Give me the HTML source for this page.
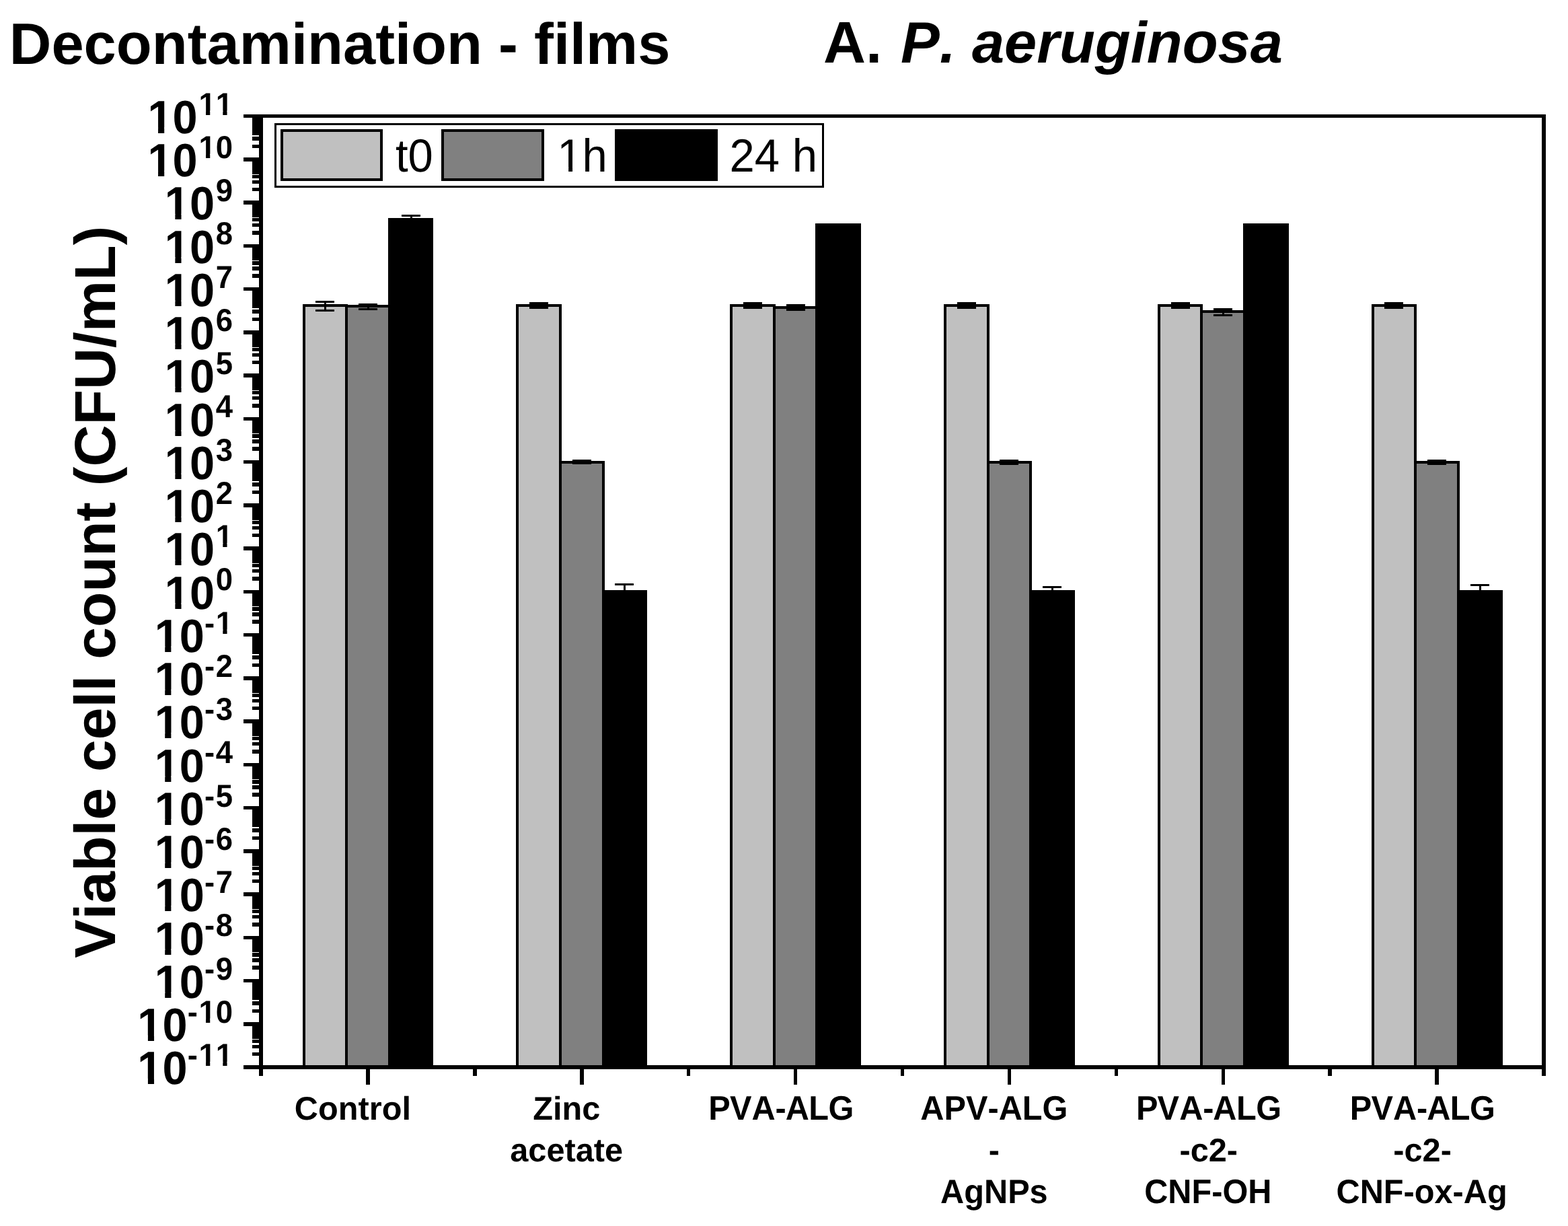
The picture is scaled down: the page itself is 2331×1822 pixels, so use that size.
<!DOCTYPE html>
<html lang="en"><head><meta charset="utf-8"><title>Decontamination - films: A. P. aeruginosa</title>
<style>
html,body{margin:0;padding:0;background:#fff;}
body{width:2331px;height:1822px;}
svg{display:block;}
text{font-kerning:none;text-rendering:geometricPrecision;}
</style></head><body>
<svg width="2331" height="1822" viewBox="0 0 2331 1822" role="img" aria-label="Bar chart: viable cell count (CFU/mL) of P. aeruginosa on films at t0, 1h and 24 h">
<rect x="0" y="0" width="2331" height="1822" fill="#fff"/>
<g id="bars" stroke="#000" stroke-width="4.00" stroke-linejoin="miter" shape-rendering="crispEdges">
<rect x="452.12" y="454.00" width="62.97" height="1132.00" fill="#c0c0c0"/>
<rect x="515.09" y="455.00" width="63.67" height="1131.00" fill="#808080"/>
<rect x="578.76" y="326.40" width="63.67" height="1259.60" fill="#000000"/>
<rect x="769.25" y="454.00" width="63.67" height="1132.00" fill="#c0c0c0"/>
<rect x="832.92" y="687.00" width="63.67" height="899.00" fill="#808080"/>
<rect x="896.59" y="879.30" width="63.67" height="706.70" fill="#000000"/>
<rect x="1087.08" y="454.00" width="63.67" height="1132.00" fill="#c0c0c0"/>
<rect x="1150.75" y="457.00" width="63.67" height="1129.00" fill="#808080"/>
<rect x="1214.42" y="334.30" width="63.67" height="1251.70" fill="#000000"/>
<rect x="1404.92" y="454.00" width="63.67" height="1132.00" fill="#c0c0c0"/>
<rect x="1468.59" y="687.00" width="63.67" height="899.00" fill="#808080"/>
<rect x="1532.26" y="879.30" width="63.67" height="706.70" fill="#000000"/>
<rect x="1722.75" y="454.00" width="63.67" height="1132.00" fill="#c0c0c0"/>
<rect x="1786.42" y="463.00" width="63.67" height="1123.00" fill="#808080"/>
<rect x="1850.09" y="334.30" width="63.67" height="1251.70" fill="#000000"/>
<rect x="2040.58" y="454.00" width="63.67" height="1132.00" fill="#c0c0c0"/>
<rect x="2104.25" y="687.00" width="63.67" height="899.00" fill="#808080"/>
<rect x="2167.92" y="879.30" width="63.67" height="706.70" fill="#000000"/>
</g>
<g id="errs" stroke="#000" stroke-width="3" fill="none" stroke-linecap="round" shape-rendering="crispEdges">
<path d="M470.5 448.5H495.5M483.5 448.5V461.5M470.5 461.5H495.5"/>
<path d="M534.5 452.5H559.5M547.5 452.5V459.5M534.5 459.5H559.5"/>
<path d="M598.5 320.5H623.5M611.5 320.5V326.4"/>
<path d="M788.5 450.5H813.5M801.5 450.5V457.5M788.5 457.5H813.5"/>
<path d="M852.5 684.5H877.5M865.5 684.5V688.5M852.5 688.5H877.5"/>
<path d="M915.5 868.5H940.5M928.5 868.5V879.3"/>
<path d="M1106.5 450.5H1131.5M1119.5 450.5V457.5M1106.5 457.5H1131.5"/>
<path d="M1170.5 453.5H1195.5M1183.5 453.5V460.5M1170.5 460.5H1195.5"/>
<path d="M1424.5 450.5H1449.5M1437.5 450.5V457.5M1424.5 457.5H1449.5"/>
<path d="M1487.5 684.5H1512.5M1500.5 684.5V689.5M1487.5 689.5H1512.5"/>
<path d="M1551.5 872.5H1576.5M1564.5 872.5V879.3"/>
<path d="M1742.5 450.5H1767.5M1755.5 450.5V457.5M1742.5 457.5H1767.5"/>
<path d="M1805.5 459.5H1830.5M1818.5 459.5V468.5M1805.5 468.5H1830.5"/>
<path d="M2059.5 450.5H2084.5M2072.5 450.5V457.5M2059.5 457.5H2084.5"/>
<path d="M2123.5 684.5H2148.5M2136.5 684.5V689.5M2123.5 689.5H2148.5"/>
<path d="M2187.5 869.5H2212.5M2200.5 869.5V879.3"/>
</g>
<g id="axes" fill="#000" shape-rendering="crispEdges">
<rect x="385.25" y="169.75" width="5.5" height="1419.0"/>
<rect x="2292.25" y="169.75" width="5.5" height="1419.0"/>
<rect x="385.25" y="169.75" width="1912.5" height="5.5"/>
<rect x="385.25" y="1583.25" width="1912.5" height="5.5"/>
<rect x="362" y="169.75" width="26" height="5.5"/>
<rect x="375" y="214.66" width="13" height="5.5"/>
<rect x="375" y="203.34" width="13" height="5.5"/>
<rect x="375" y="195.32" width="13" height="5.5"/>
<rect x="375" y="189.09" width="13" height="5.5"/>
<rect x="375" y="184.00" width="13" height="5.5"/>
<rect x="375" y="179.70" width="13" height="5.5"/>
<rect x="375" y="175.98" width="13" height="5.5"/>
<rect x="375" y="172.69" width="13" height="5.5"/>
<rect x="362" y="234.00" width="26" height="5.5"/>
<rect x="375" y="278.91" width="13" height="5.5"/>
<rect x="375" y="267.59" width="13" height="5.5"/>
<rect x="375" y="259.57" width="13" height="5.5"/>
<rect x="375" y="253.34" width="13" height="5.5"/>
<rect x="375" y="248.25" width="13" height="5.5"/>
<rect x="375" y="243.95" width="13" height="5.5"/>
<rect x="375" y="240.23" width="13" height="5.5"/>
<rect x="375" y="236.94" width="13" height="5.5"/>
<rect x="362" y="298.25" width="26" height="5.5"/>
<rect x="375" y="343.16" width="13" height="5.5"/>
<rect x="375" y="331.84" width="13" height="5.5"/>
<rect x="375" y="323.82" width="13" height="5.5"/>
<rect x="375" y="317.59" width="13" height="5.5"/>
<rect x="375" y="312.50" width="13" height="5.5"/>
<rect x="375" y="308.20" width="13" height="5.5"/>
<rect x="375" y="304.48" width="13" height="5.5"/>
<rect x="375" y="301.19" width="13" height="5.5"/>
<rect x="362" y="362.50" width="26" height="5.5"/>
<rect x="375" y="407.41" width="13" height="5.5"/>
<rect x="375" y="396.09" width="13" height="5.5"/>
<rect x="375" y="388.07" width="13" height="5.5"/>
<rect x="375" y="381.84" width="13" height="5.5"/>
<rect x="375" y="376.75" width="13" height="5.5"/>
<rect x="375" y="372.45" width="13" height="5.5"/>
<rect x="375" y="368.73" width="13" height="5.5"/>
<rect x="375" y="365.44" width="13" height="5.5"/>
<rect x="362" y="426.75" width="26" height="5.5"/>
<rect x="375" y="471.66" width="13" height="5.5"/>
<rect x="375" y="460.34" width="13" height="5.5"/>
<rect x="375" y="452.32" width="13" height="5.5"/>
<rect x="375" y="446.09" width="13" height="5.5"/>
<rect x="375" y="441.00" width="13" height="5.5"/>
<rect x="375" y="436.70" width="13" height="5.5"/>
<rect x="375" y="432.98" width="13" height="5.5"/>
<rect x="375" y="429.69" width="13" height="5.5"/>
<rect x="362" y="491.00" width="26" height="5.5"/>
<rect x="375" y="535.91" width="13" height="5.5"/>
<rect x="375" y="524.59" width="13" height="5.5"/>
<rect x="375" y="516.57" width="13" height="5.5"/>
<rect x="375" y="510.34" width="13" height="5.5"/>
<rect x="375" y="505.25" width="13" height="5.5"/>
<rect x="375" y="500.95" width="13" height="5.5"/>
<rect x="375" y="497.23" width="13" height="5.5"/>
<rect x="375" y="493.94" width="13" height="5.5"/>
<rect x="362" y="555.25" width="26" height="5.5"/>
<rect x="375" y="600.16" width="13" height="5.5"/>
<rect x="375" y="588.84" width="13" height="5.5"/>
<rect x="375" y="580.82" width="13" height="5.5"/>
<rect x="375" y="574.59" width="13" height="5.5"/>
<rect x="375" y="569.50" width="13" height="5.5"/>
<rect x="375" y="565.20" width="13" height="5.5"/>
<rect x="375" y="561.48" width="13" height="5.5"/>
<rect x="375" y="558.19" width="13" height="5.5"/>
<rect x="362" y="619.50" width="26" height="5.5"/>
<rect x="375" y="664.41" width="13" height="5.5"/>
<rect x="375" y="653.09" width="13" height="5.5"/>
<rect x="375" y="645.07" width="13" height="5.5"/>
<rect x="375" y="638.84" width="13" height="5.5"/>
<rect x="375" y="633.75" width="13" height="5.5"/>
<rect x="375" y="629.45" width="13" height="5.5"/>
<rect x="375" y="625.73" width="13" height="5.5"/>
<rect x="375" y="622.44" width="13" height="5.5"/>
<rect x="362" y="683.75" width="26" height="5.5"/>
<rect x="375" y="728.66" width="13" height="5.5"/>
<rect x="375" y="717.34" width="13" height="5.5"/>
<rect x="375" y="709.32" width="13" height="5.5"/>
<rect x="375" y="703.09" width="13" height="5.5"/>
<rect x="375" y="698.00" width="13" height="5.5"/>
<rect x="375" y="693.70" width="13" height="5.5"/>
<rect x="375" y="689.98" width="13" height="5.5"/>
<rect x="375" y="686.69" width="13" height="5.5"/>
<rect x="362" y="748.00" width="26" height="5.5"/>
<rect x="375" y="792.91" width="13" height="5.5"/>
<rect x="375" y="781.59" width="13" height="5.5"/>
<rect x="375" y="773.57" width="13" height="5.5"/>
<rect x="375" y="767.34" width="13" height="5.5"/>
<rect x="375" y="762.25" width="13" height="5.5"/>
<rect x="375" y="757.95" width="13" height="5.5"/>
<rect x="375" y="754.23" width="13" height="5.5"/>
<rect x="375" y="750.94" width="13" height="5.5"/>
<rect x="362" y="812.25" width="26" height="5.5"/>
<rect x="375" y="857.16" width="13" height="5.5"/>
<rect x="375" y="845.84" width="13" height="5.5"/>
<rect x="375" y="837.82" width="13" height="5.5"/>
<rect x="375" y="831.59" width="13" height="5.5"/>
<rect x="375" y="826.50" width="13" height="5.5"/>
<rect x="375" y="822.20" width="13" height="5.5"/>
<rect x="375" y="818.48" width="13" height="5.5"/>
<rect x="375" y="815.19" width="13" height="5.5"/>
<rect x="362" y="876.50" width="26" height="5.5"/>
<rect x="375" y="921.41" width="13" height="5.5"/>
<rect x="375" y="910.09" width="13" height="5.5"/>
<rect x="375" y="902.07" width="13" height="5.5"/>
<rect x="375" y="895.84" width="13" height="5.5"/>
<rect x="375" y="890.75" width="13" height="5.5"/>
<rect x="375" y="886.45" width="13" height="5.5"/>
<rect x="375" y="882.73" width="13" height="5.5"/>
<rect x="375" y="879.44" width="13" height="5.5"/>
<rect x="362" y="940.75" width="26" height="5.5"/>
<rect x="375" y="985.66" width="13" height="5.5"/>
<rect x="375" y="974.34" width="13" height="5.5"/>
<rect x="375" y="966.32" width="13" height="5.5"/>
<rect x="375" y="960.09" width="13" height="5.5"/>
<rect x="375" y="955.00" width="13" height="5.5"/>
<rect x="375" y="950.70" width="13" height="5.5"/>
<rect x="375" y="946.98" width="13" height="5.5"/>
<rect x="375" y="943.69" width="13" height="5.5"/>
<rect x="362" y="1005.00" width="26" height="5.5"/>
<rect x="375" y="1049.91" width="13" height="5.5"/>
<rect x="375" y="1038.59" width="13" height="5.5"/>
<rect x="375" y="1030.57" width="13" height="5.5"/>
<rect x="375" y="1024.34" width="13" height="5.5"/>
<rect x="375" y="1019.25" width="13" height="5.5"/>
<rect x="375" y="1014.95" width="13" height="5.5"/>
<rect x="375" y="1011.23" width="13" height="5.5"/>
<rect x="375" y="1007.94" width="13" height="5.5"/>
<rect x="362" y="1069.25" width="26" height="5.5"/>
<rect x="375" y="1114.16" width="13" height="5.5"/>
<rect x="375" y="1102.84" width="13" height="5.5"/>
<rect x="375" y="1094.82" width="13" height="5.5"/>
<rect x="375" y="1088.59" width="13" height="5.5"/>
<rect x="375" y="1083.50" width="13" height="5.5"/>
<rect x="375" y="1079.20" width="13" height="5.5"/>
<rect x="375" y="1075.48" width="13" height="5.5"/>
<rect x="375" y="1072.19" width="13" height="5.5"/>
<rect x="362" y="1133.50" width="26" height="5.5"/>
<rect x="375" y="1178.41" width="13" height="5.5"/>
<rect x="375" y="1167.09" width="13" height="5.5"/>
<rect x="375" y="1159.07" width="13" height="5.5"/>
<rect x="375" y="1152.84" width="13" height="5.5"/>
<rect x="375" y="1147.75" width="13" height="5.5"/>
<rect x="375" y="1143.45" width="13" height="5.5"/>
<rect x="375" y="1139.73" width="13" height="5.5"/>
<rect x="375" y="1136.44" width="13" height="5.5"/>
<rect x="362" y="1197.75" width="26" height="5.5"/>
<rect x="375" y="1242.66" width="13" height="5.5"/>
<rect x="375" y="1231.34" width="13" height="5.5"/>
<rect x="375" y="1223.32" width="13" height="5.5"/>
<rect x="375" y="1217.09" width="13" height="5.5"/>
<rect x="375" y="1212.00" width="13" height="5.5"/>
<rect x="375" y="1207.70" width="13" height="5.5"/>
<rect x="375" y="1203.98" width="13" height="5.5"/>
<rect x="375" y="1200.69" width="13" height="5.5"/>
<rect x="362" y="1262.00" width="26" height="5.5"/>
<rect x="375" y="1306.91" width="13" height="5.5"/>
<rect x="375" y="1295.59" width="13" height="5.5"/>
<rect x="375" y="1287.57" width="13" height="5.5"/>
<rect x="375" y="1281.34" width="13" height="5.5"/>
<rect x="375" y="1276.25" width="13" height="5.5"/>
<rect x="375" y="1271.95" width="13" height="5.5"/>
<rect x="375" y="1268.23" width="13" height="5.5"/>
<rect x="375" y="1264.94" width="13" height="5.5"/>
<rect x="362" y="1326.25" width="26" height="5.5"/>
<rect x="375" y="1371.16" width="13" height="5.5"/>
<rect x="375" y="1359.84" width="13" height="5.5"/>
<rect x="375" y="1351.82" width="13" height="5.5"/>
<rect x="375" y="1345.59" width="13" height="5.5"/>
<rect x="375" y="1340.50" width="13" height="5.5"/>
<rect x="375" y="1336.20" width="13" height="5.5"/>
<rect x="375" y="1332.48" width="13" height="5.5"/>
<rect x="375" y="1329.19" width="13" height="5.5"/>
<rect x="362" y="1390.50" width="26" height="5.5"/>
<rect x="375" y="1435.41" width="13" height="5.5"/>
<rect x="375" y="1424.09" width="13" height="5.5"/>
<rect x="375" y="1416.07" width="13" height="5.5"/>
<rect x="375" y="1409.84" width="13" height="5.5"/>
<rect x="375" y="1404.75" width="13" height="5.5"/>
<rect x="375" y="1400.45" width="13" height="5.5"/>
<rect x="375" y="1396.73" width="13" height="5.5"/>
<rect x="375" y="1393.44" width="13" height="5.5"/>
<rect x="362" y="1454.75" width="26" height="5.5"/>
<rect x="375" y="1499.66" width="13" height="5.5"/>
<rect x="375" y="1488.34" width="13" height="5.5"/>
<rect x="375" y="1480.32" width="13" height="5.5"/>
<rect x="375" y="1474.09" width="13" height="5.5"/>
<rect x="375" y="1469.00" width="13" height="5.5"/>
<rect x="375" y="1464.70" width="13" height="5.5"/>
<rect x="375" y="1460.98" width="13" height="5.5"/>
<rect x="375" y="1457.69" width="13" height="5.5"/>
<rect x="362" y="1519.00" width="26" height="5.5"/>
<rect x="375" y="1563.91" width="13" height="5.5"/>
<rect x="375" y="1552.59" width="13" height="5.5"/>
<rect x="375" y="1544.57" width="13" height="5.5"/>
<rect x="375" y="1538.34" width="13" height="5.5"/>
<rect x="375" y="1533.25" width="13" height="5.5"/>
<rect x="375" y="1528.95" width="13" height="5.5"/>
<rect x="375" y="1525.23" width="13" height="5.5"/>
<rect x="375" y="1521.94" width="13" height="5.5"/>
<rect x="362" y="1583.25" width="26" height="5.5"/>
<rect x="544.17" y="1586" width="5.5" height="26"/>
<rect x="862.00" y="1586" width="5.5" height="26"/>
<rect x="1179.83" y="1586" width="5.5" height="26"/>
<rect x="1497.67" y="1586" width="5.5" height="26"/>
<rect x="1815.50" y="1586" width="5.5" height="26"/>
<rect x="2133.33" y="1586" width="5.5" height="26"/>
<rect x="385.25" y="1586" width="5.5" height="13"/>
<rect x="703.08" y="1586" width="5.5" height="13"/>
<rect x="1020.92" y="1586" width="5.5" height="13"/>
<rect x="1338.75" y="1586" width="5.5" height="13"/>
<rect x="1656.58" y="1586" width="5.5" height="13"/>
<rect x="1974.42" y="1586" width="5.5" height="13"/>
<rect x="2292.25" y="1586" width="5.5" height="13"/>
</g>
<g id="legend">
<rect x="409.5" y="184.5" width="814" height="93" fill="#fff" stroke="#000" stroke-width="3" shape-rendering="crispEdges"/>
<rect x="419" y="194" width="148" height="73" fill="#c0c0c0" stroke="#000" stroke-width="4" shape-rendering="crispEdges"/>
<rect x="658" y="194" width="149" height="73" fill="#808080" stroke="#000" stroke-width="4" shape-rendering="crispEdges"/>
<rect x="916" y="194" width="149" height="73" fill="#000" stroke="#000" stroke-width="4" shape-rendering="crispEdges"/>
<g font-family="'Liberation Sans', sans-serif" font-size="67" fill="#000">
<text transform="translate(588,254.7) scale(1,1.03)">t0</text>
<text transform="translate(828.3,254.7) scale(1,1.03)">1h</text>
<text transform="translate(1084.6,254.7) scale(1,1.03)">24 h</text>
</g>
<path fill="#fff" d="M831.90 248.34H845.15V256H831.90ZM851.07 248.34H863.79V256H851.07Z"/>
</g>
<g font-family="'Liberation Sans', sans-serif" font-weight="bold" fill="#000">
<text x="13.8" y="94.8" font-size="86.7">Decontamination - films</text>
<text x="1224" y="93" font-size="87.2">A.<tspan dx="1"> </tspan><tspan font-style="italic" font-size="86.6" dx="2.6">P. aeruginosa</tspan></text>
<text transform="translate(171,1423.8) rotate(-90)" font-size="85.9">Viable cell count (CFU/mL)</text>
<text transform="translate(524.4,1664.0) scale(1,1.0)" font-size="48.7" text-anchor="middle">Control</text>
<text transform="translate(842.2,1664.0) scale(1,1.0)" font-size="48.7" text-anchor="middle">Zinc</text>
<text transform="translate(842.2,1725.8) scale(1,1.0)" font-size="48.7" text-anchor="middle">acetate</text>
<text transform="translate(1160.1,1664.0) scale(1,1.04)" font-size="48.7" text-anchor="middle" dx="1.3 -0.9 0.1 -0.1 -1.15 -0.45 -0.5">PVA-ALG</text>
<text transform="translate(1477.9,1664.0) scale(1,1.04)" font-size="48.7" text-anchor="middle">APV-ALG</text>
<text transform="translate(1477.9,1725.8) scale(1,1.0)" font-size="48.7" text-anchor="middle">-</text>
<text transform="translate(1477.9,1787.6) scale(1,1.03)" font-size="48.7" text-anchor="middle">AgNPs</text>
<text transform="translate(1795.8,1664.0) scale(1,1.04)" font-size="48.7" text-anchor="middle" dx="1.3 -0.9 0.1 -0.1 -1.15 -0.45 -0.5">PVA-ALG</text>
<text transform="translate(1796.8,1725.8) scale(1,1.0)" font-size="48.7" text-anchor="middle">-c2-</text>
<text transform="translate(1795.8,1787.6) scale(1,1.04)" font-size="48.7" text-anchor="middle">CNF-OH</text>
<text transform="translate(2113.6,1664.0) scale(1,1.04)" font-size="48.7" text-anchor="middle" dx="1.3 -0.9 0.1 -0.1 -1.15 -0.45 -0.5">PVA-ALG</text>
<text transform="translate(2114.6,1725.8) scale(1,1.0)" font-size="48.7" text-anchor="middle">-c2-</text>
<text transform="translate(2113.6,1787.6) scale(1,1.03)" font-size="48.7" text-anchor="middle">CNF-ox-Ag</text>
</g>
<g font-family="'Liberation Sans', sans-serif" fill="#000" font-weight="bold" text-anchor="end">
<text transform="translate(346,197.8) scale(1,1.04)" font-size="66.7">10<tspan font-size="45.5" dy="-26.2" dx="1.7">11</tspan></text>
<text transform="translate(346,262.1) scale(1,1.04)" font-size="66.7">10<tspan font-size="45.5" dy="-26.2" dx="1.7">10</tspan></text>
<text transform="translate(346,326.3) scale(1,1.04)" font-size="66.7">10<tspan font-size="45.5" dy="-26.2" dx="1.7">9</tspan></text>
<text transform="translate(346,390.6) scale(1,1.04)" font-size="66.7">10<tspan font-size="45.5" dy="-26.2" dx="1.7">8</tspan></text>
<text transform="translate(346,454.8) scale(1,1.04)" font-size="66.7">10<tspan font-size="45.5" dy="-26.2" dx="1.7">7</tspan></text>
<text transform="translate(346,519.0) scale(1,1.04)" font-size="66.7">10<tspan font-size="45.5" dy="-26.2" dx="1.7">6</tspan></text>
<text transform="translate(346,583.3) scale(1,1.04)" font-size="66.7">10<tspan font-size="45.5" dy="-26.2" dx="1.7">5</tspan></text>
<text transform="translate(346,647.5) scale(1,1.04)" font-size="66.7">10<tspan font-size="45.5" dy="-26.2" dx="1.7">4</tspan></text>
<text transform="translate(346,711.8) scale(1,1.04)" font-size="66.7">10<tspan font-size="45.5" dy="-26.2" dx="1.7">3</tspan></text>
<text transform="translate(346,776.0) scale(1,1.04)" font-size="66.7">10<tspan font-size="45.5" dy="-26.2" dx="1.7">2</tspan></text>
<text transform="translate(346,840.3) scale(1,1.04)" font-size="66.7">10<tspan font-size="45.5" dy="-26.2" dx="1.7">1</tspan></text>
<text transform="translate(346,904.5) scale(1,1.04)" font-size="66.7">10<tspan font-size="45.5" dy="-26.2" dx="1.7">0</tspan></text>
<text transform="translate(346,968.8) scale(1,1.04)" font-size="66.7">10<tspan font-size="45.5" dy="-26.2" dx="0.2 1.5">-1</tspan></text>
<text transform="translate(346,1033.0) scale(1,1.04)" font-size="66.7">10<tspan font-size="45.5" dy="-26.2" dx="0.2 1.5">-2</tspan></text>
<text transform="translate(346,1097.3) scale(1,1.04)" font-size="66.7">10<tspan font-size="45.5" dy="-26.2" dx="0.2 1.5">-3</tspan></text>
<text transform="translate(346,1161.5) scale(1,1.04)" font-size="66.7">10<tspan font-size="45.5" dy="-26.2" dx="0.2 1.5">-4</tspan></text>
<text transform="translate(346,1225.8) scale(1,1.04)" font-size="66.7">10<tspan font-size="45.5" dy="-26.2" dx="0.2 1.5">-5</tspan></text>
<text transform="translate(346,1290.0) scale(1,1.04)" font-size="66.7">10<tspan font-size="45.5" dy="-26.2" dx="0.2 1.5">-6</tspan></text>
<text transform="translate(346,1354.3) scale(1,1.04)" font-size="66.7">10<tspan font-size="45.5" dy="-26.2" dx="0.2 1.5">-7</tspan></text>
<text transform="translate(346,1418.5) scale(1,1.04)" font-size="66.7">10<tspan font-size="45.5" dy="-26.2" dx="0.2 1.5">-8</tspan></text>
<text transform="translate(346,1482.8) scale(1,1.04)" font-size="66.7">10<tspan font-size="45.5" dy="-26.2" dx="0.2 1.5">-9</tspan></text>
<text transform="translate(346,1547.0) scale(1,1.04)" font-size="66.7">10<tspan font-size="45.5" dy="-26.2" dx="0.2 1.5">-10</tspan></text>
<text transform="translate(346,1611.3) scale(1,1.04)" font-size="66.7">10<tspan font-size="45.5" dy="-26.2" dx="0.2 1.5">-11</tspan></text>
</g>
<path fill="#fff" d="M222.20 189.52H235.07V199.00H222.20ZM244.22 189.52H256.24V199.00H244.22ZM296.76 164.52H306.01V171.75H296.76ZM312.25 164.52H320.93V171.75H312.25ZM322.06 164.52H331.31V171.75H322.06ZM337.56 164.52H346.23V171.75H337.56ZM222.20 253.77H235.07V263.25H222.20ZM244.22 253.77H256.24V263.25H244.22ZM296.76 228.77H306.01V236.00H296.76ZM312.25 228.77H320.93V236.00H312.25ZM247.51 318.02H260.37V327.50H247.51ZM269.52 318.02H281.54V327.50H269.52ZM247.51 382.27H260.37V391.75H247.51ZM269.52 382.27H281.54V391.75H269.52ZM247.51 446.52H260.37V456.00H247.51ZM269.52 446.52H281.54V456.00H269.52ZM247.51 510.77H260.37V520.25H247.51ZM269.52 510.77H281.54V520.25H269.52ZM247.51 575.02H260.37V584.50H247.51ZM269.52 575.02H281.54V584.50H269.52ZM247.51 639.27H260.37V648.75H247.51ZM269.52 639.27H281.54V648.75H269.52ZM247.51 703.52H260.37V713.00H247.51ZM269.52 703.52H281.54V713.00H269.52ZM247.51 767.77H260.37V777.25H247.51ZM269.52 767.77H281.54V777.25H269.52ZM247.51 832.02H260.37V841.50H247.51ZM269.52 832.02H281.54V841.50H269.52ZM322.06 807.02H331.31V814.25H322.06ZM337.56 807.02H346.23V814.25H337.56ZM247.51 896.27H260.37V905.75H247.51ZM269.52 896.27H281.54V905.75H269.52ZM232.35 960.52H245.22V970.00H232.35ZM254.37 960.52H266.39V970.00H254.37ZM322.06 935.52H331.31V942.75H322.06ZM337.56 935.52H346.23V942.75H337.56ZM232.35 1024.77H245.22V1034.25H232.35ZM254.37 1024.77H266.39V1034.25H254.37ZM232.35 1089.02H245.22V1098.50H232.35ZM254.37 1089.02H266.39V1098.50H254.37ZM232.35 1153.27H245.22V1162.75H232.35ZM254.37 1153.27H266.39V1162.75H254.37ZM232.35 1217.52H245.22V1227.00H232.35ZM254.37 1217.52H266.39V1227.00H254.37ZM232.35 1281.77H245.22V1291.25H232.35ZM254.37 1281.77H266.39V1291.25H254.37ZM232.35 1346.02H245.22V1355.50H232.35ZM254.37 1346.02H266.39V1355.50H254.37ZM232.35 1410.27H245.22V1419.75H232.35ZM254.37 1410.27H266.39V1419.75H254.37ZM232.35 1474.52H245.22V1484.00H232.35ZM254.37 1474.52H266.39V1484.00H254.37ZM207.05 1538.77H219.92V1548.25H207.05ZM229.07 1538.77H241.09V1548.25H229.07ZM296.76 1513.77H306.01V1521.00H296.76ZM312.25 1513.77H320.93V1521.00H312.25ZM207.05 1603.02H219.92V1612.50H207.05ZM229.07 1603.02H241.09V1612.50H229.07ZM296.76 1578.02H306.01V1585.25H296.76ZM312.25 1578.02H320.93V1585.25H312.25ZM322.06 1578.02H331.31V1585.25H322.06ZM337.56 1578.02H346.23V1585.25H337.56Z"/>
</svg>
</body></html>
